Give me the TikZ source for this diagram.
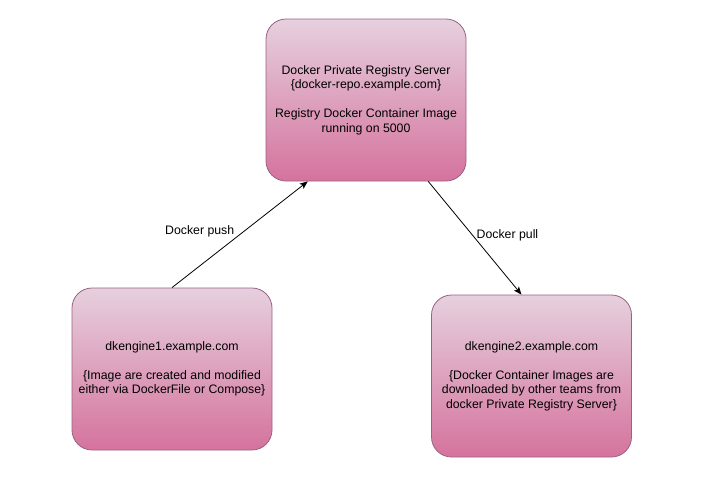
\documentclass[tikz,border=0pt]{standalone}
\usepackage{fontspec}
\setmainfont{Liberation Sans}
\usetikzlibrary{calc,arrows.meta,shapes}
\definecolor{pinkfill}{HTML}{E6D0DE}
\definecolor{pinkgrad}{HTML}{D5739D}
\definecolor{pinkline}{HTML}{996185}
\tikzset{
    block/.style = {draw=pinkline, rectangle, rounded corners=20pt,
        top color=pinkfill, bottom color=pinkgrad, line width=0.8pt,
        minimum height=162pt, minimum width=200pt, align=center,
        font=\fontsize{12.3}{14.5}\selectfont},
    arrow/.style={draw, ->, line width=0.8pt},
    lbl/.style = {font=\fontsize{12.3}{14.5}\selectfont}
}

\begin{document}
\begin{tikzpicture}[x=1pt, y=-1pt, >={Stealth[length=8pt,width=6.5pt,inset=2pt]}]
        \useasboundingbox (0,0) rectangle (713,483);
        \node [block, name=registry] at (366,100) {Docker Private Registry Server\\ \{docker-repo.example.com\}\\[14.5pt] Registry Docker Container Image\\ running on 5000};
        \node [block, name=engineA] at (172,369) {dkengine1.example.com\\[14.5pt] \{Image are created and modified\\ either via DockerFile or Compose\}};
        \node [block, name=engineB] at (531.5,376) {dkengine2.example.com\\[14.5pt] \{Docker Container Images are\\ downloaded by other teams from\\ docker Private Registry Server\}};
        % push / pull
        \draw [arrow] (engineA.north) -- node[lbl, pos=.53, left=6pt] {Docker push} ($(registry.south west)!.21!(registry.south east)$);
        \draw [arrow] ($(registry.south west)!.81!(registry.south east)$) -- node[lbl, pos=.48, anchor=west] {Docker pull} ($(engineB.north west)!.45!(engineB.north east)$);
\end{tikzpicture}
\end{document}
